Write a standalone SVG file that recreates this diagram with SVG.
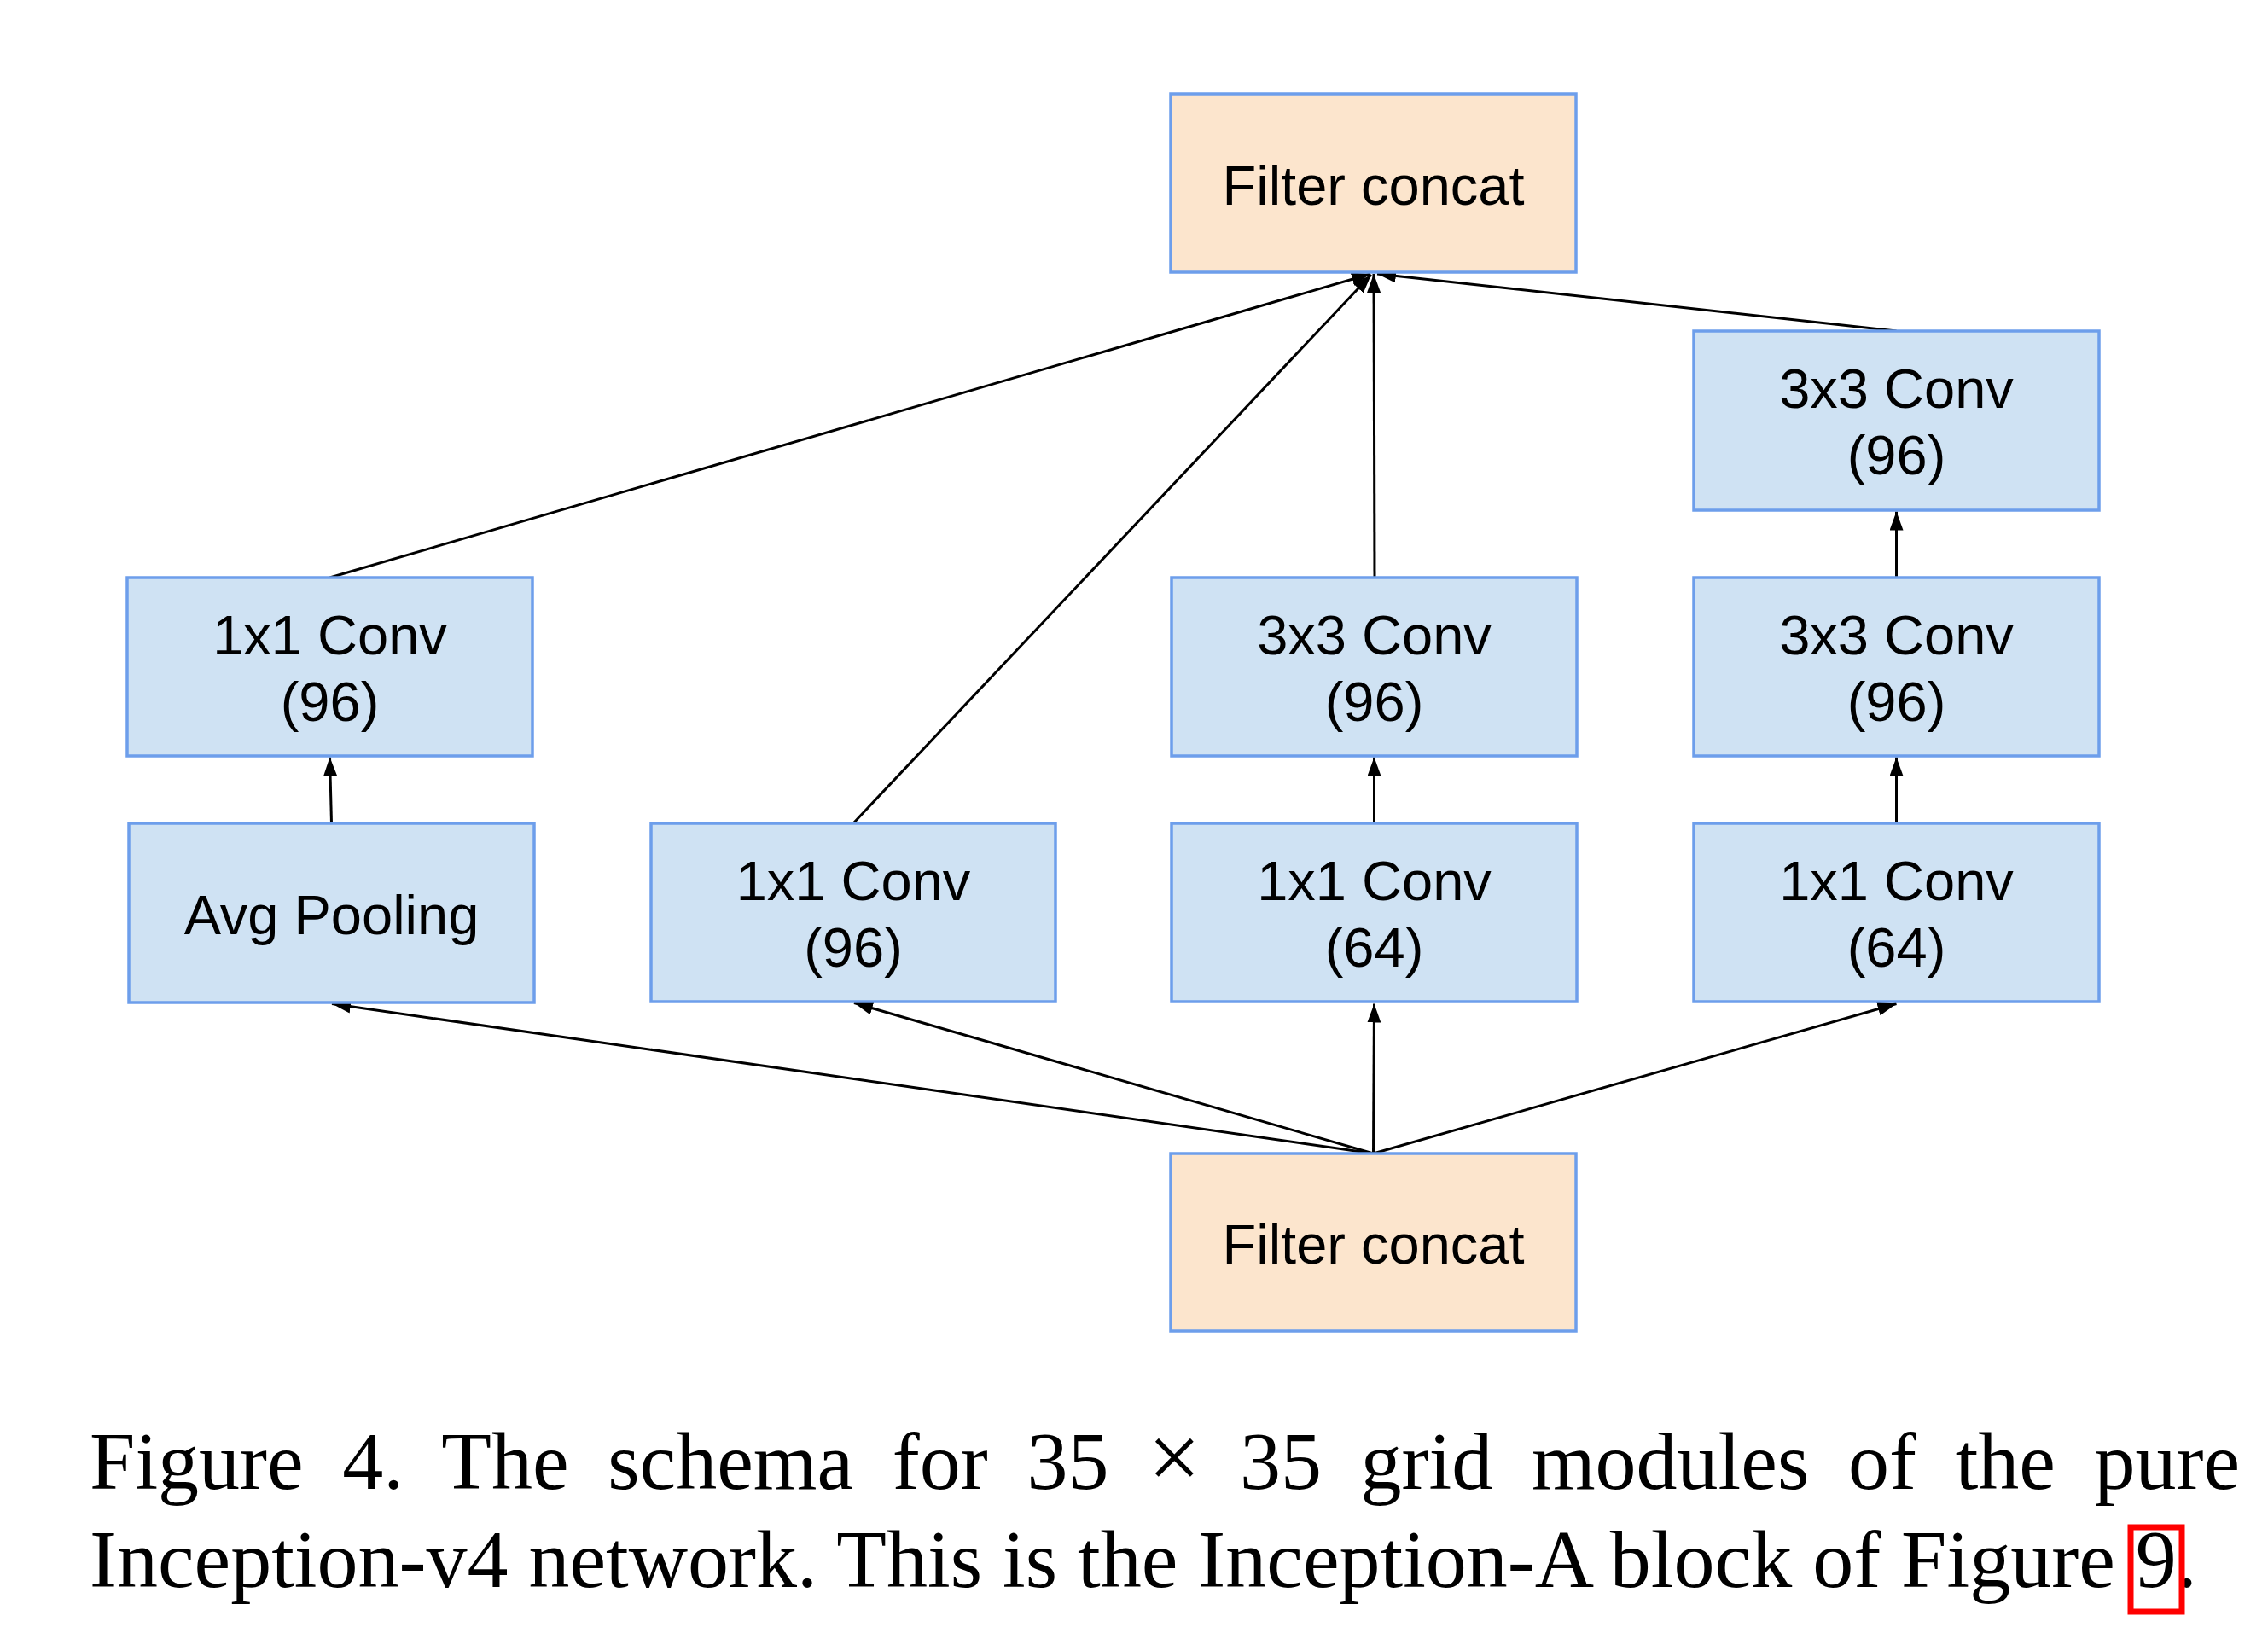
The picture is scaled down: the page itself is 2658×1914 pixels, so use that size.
<svg xmlns="http://www.w3.org/2000/svg" width="2658" height="1914" viewBox="0 0 2658 1914">
<style>
.box{stroke:#6d9eeb;stroke-width:3.5}
.blue{fill:#cfe2f3}
.orange{fill:#fce5cd}
.lbl{font-family:"Liberation Sans",Arial,sans-serif;font-size:65px;fill:#000;text-anchor:middle}
.edge{stroke:#000;stroke-width:3;fill:none;marker-end:url(#ah)}
.cap{font-family:"Liberation Serif","Times New Roman",serif;font-size:96px;fill:#000}
</style>
<defs>
<marker id="ah" markerUnits="userSpaceOnUse" markerWidth="22" markerHeight="16" refX="22" refY="8" orient="auto" viewBox="0 0 22 16">
<path d="M0,0 L22,8 L0,16 z" fill="#000"/>
</marker>
</defs>
<rect width="2658" height="1914" fill="#fff"/>
<g id="connectors">
<path class="edge" d="M386.5,677 L1606,321"/>
<path class="edge" d="M1000,965 L1607,322"/>
<path class="edge" d="M1611,677 L1610,321"/>
<path class="edge" d="M2222.5,388 L1614,321"/>
<path class="edge" d="M1609.5,1352 L389,1176.5"/>
<path class="edge" d="M1609.5,1352 L1001,1175.5"/>
<path class="edge" d="M1609.5,1352 L1610.5,1176.5"/>
<path class="edge" d="M1609.5,1352 L2222.5,1176.5"/>
<path class="edge" d="M388.5,965 L386.5,887.5"/>
<path class="edge" d="M1610.5,965 L1610.5,887.5"/>
<path class="edge" d="M2222.5,965 L2222.5,887.5"/>
<path class="edge" d="M2222.5,677 L2222.5,599.5"/>
</g>
<g id="concat_top">
<rect class="box orange" x="1372" y="110" width="475" height="209"/>
<text class="lbl" x="1609.5" y="239.5">Filter concat</text>
</g>
<g id="conv3x3_c4_top">
<rect class="box blue" x="1985" y="388" width="475" height="210"/>
<text class="lbl" x="2222.5" y="477.5">3x3 Conv</text>
<text class="lbl" x="2222.5" y="556">(96)</text>
</g>
<g id="conv1x1_c1">
<rect class="box blue" x="149" y="677" width="475" height="209"/>
<text class="lbl" x="386.5" y="767">1x1 Conv</text>
<text class="lbl" x="386.5" y="845">(96)</text>
</g>
<g id="conv3x3_c3">
<rect class="box blue" x="1373" y="677" width="475" height="209"/>
<text class="lbl" x="1610.5" y="767">3x3 Conv</text>
<text class="lbl" x="1610.5" y="845">(96)</text>
</g>
<g id="conv3x3_c4_mid">
<rect class="box blue" x="1985" y="677" width="475" height="209"/>
<text class="lbl" x="2222.5" y="767">3x3 Conv</text>
<text class="lbl" x="2222.5" y="845">(96)</text>
</g>
<g id="avgpool">
<rect class="box blue" x="151" y="965" width="475" height="210"/>
<text class="lbl" x="388.5" y="1095">Avg Pooling</text>
</g>
<g id="conv1x1_c2">
<rect class="box blue" x="763" y="965" width="474" height="209"/>
<text class="lbl" x="1000" y="1055">1x1 Conv</text>
<text class="lbl" x="1000" y="1133">(96)</text>
</g>
<g id="conv1x1_c3">
<rect class="box blue" x="1373" y="965" width="475" height="209"/>
<text class="lbl" x="1610.5" y="1055">1x1 Conv</text>
<text class="lbl" x="1610.5" y="1133">(64)</text>
</g>
<g id="conv1x1_c4">
<rect class="box blue" x="1985" y="965" width="475" height="209"/>
<text class="lbl" x="2222.5" y="1055">1x1 Conv</text>
<text class="lbl" x="2222.5" y="1133">(64)</text>
</g>
<g id="concat_bottom">
<rect class="box orange" x="1372" y="1352" width="475" height="208"/>
<text class="lbl" x="1609.5" y="1481">Filter concat</text>
</g>
<g id="caption">
<text class="cap" x="105" y="1745" word-spacing="21.7">Figure 4. The schema for 35 <tspan font-size="110">×</tspan> 35 grid modules of the pure</text>
<text class="cap" x="105" y="1860">Inception-v4 network. This is the Inception-A block of Figure 9.</text>
<rect x="2497" y="1790" width="60" height="99" fill="none" stroke="#ff0000" stroke-width="7"/>
</g>
</svg>
